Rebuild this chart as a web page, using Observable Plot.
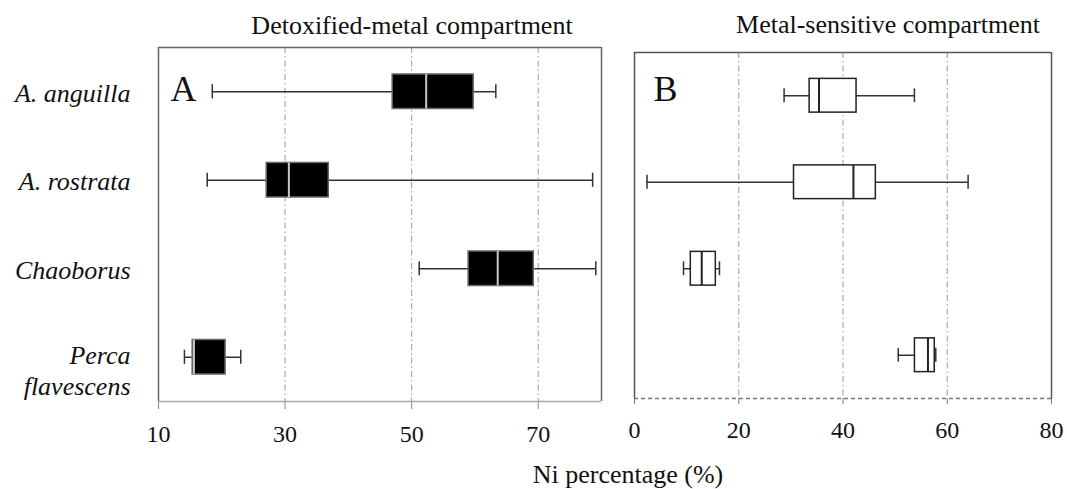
<!DOCTYPE html>
<html>
<head>
<meta charset="utf-8">
<script src="https://cdn.jsdelivr.net/npm/d3@7"></script>
<script src="https://cdn.jsdelivr.net/npm/@observablehq/plot@0.6"></script>
<style>
  html, body { margin: 0; padding: 0; background: #fff; }
  #fig { position: relative; width: 1067px; height: 489px; overflow: hidden;
         font-family: "Liberation Serif", "Times New Roman", serif; color: #111; }
  #fig svg { position: absolute; top: 0; }
  #fig svg text { font-family: "Liberation Serif", "Times New Roman", serif; }
  .txt { position: absolute; font-family: "Liberation Serif", "Times New Roman", serif;
         font-size: 26px; line-height: 26px; white-space: nowrap; text-align: center; }
</style>
</head>
<body>
<div id="fig">
  <div class="txt" id="titleA" style="left:212px; top:13px; width:400px;">Detoxified-metal compartment</div>
  <div class="txt" id="titleB" style="left:688px; top:12px; width:400px;">Metal-sensitive compartment</div>
  <div class="txt" id="xlabel" style="left:428px; top:462px; width:400px;">Ni percentage (%)</div>
</div>
<script>
// Species, top to bottom
const species = ["A. anguilla", "A. rostrata", "Chaoborus", "Perca\nflavescens"];

// Detoxified-metal compartment (% of Ni): whisker ends, quartiles, median
const detoxLo  = [18.5, 17.7, 51.2, 14.1];
const detoxQ1  = [47.0, 27.1, 59.0, 15.4];
const detoxMed = [52.3, 30.6, 63.6, 15.6];
const detoxQ3  = [59.8, 36.9, 69.3, 20.6];
const detoxHi  = [63.3, 78.6, 79.1, 23.0];

// Metal-sensitive compartment (% of Ni)
const sensLo  = [28.7,  2.4,  9.4, 50.6];
const sensQ1  = [33.6, 30.6, 10.8, 53.8];
const sensMed = [35.4, 42.0, 12.9, 56.3];
const sensQ3  = [42.6, 46.3, 15.6, 57.6];
const sensHi  = [53.7, 64.0, 16.3, 57.8];

// Axis domains, tick values and grid lines
const domainA = [10, 80];
const ticksA  = [10, 30, 50, 70];
const gridA   = [30, 50, 70];
const domainB = [0, 80];
const ticksB  = [0, 20, 40, 60, 80];
const gridB   = [20, 40, 60];

const rowsY = [4.5, 0.5];      // row 1 at the top
const BOX = 0.195;             // half box height, in row units
const CAP = 0.08;              // half whisker-cap height

const serif = '"Liberation Serif", "Times New Roman", serif';

function table(lo, q1, med, q3, hi) {
  return species.map((s, i) => ({row: i + 1, lo: lo[i], q1: q1[i], med: med[i], q3: q3[i], hi: hi[i]}));
}

function boxMarks(data, boxFill, boxStroke, medStroke) {
  return [
    Plot.ruleY(data, {y: "row", x1: "lo", x2: "hi", stroke: "#333", strokeWidth: 1.5}),
    Plot.ruleX(data, {x: "lo", y1: d => d.row - CAP, y2: d => d.row + CAP, stroke: "#333", strokeWidth: 1.5}),
    Plot.ruleX(data, {x: "hi", y1: d => d.row - CAP, y2: d => d.row + CAP, stroke: "#333", strokeWidth: 1.5}),
    Plot.rect(data, {x1: "q1", x2: "q3", y1: d => d.row - BOX, y2: d => d.row + BOX,
                     fill: boxFill, stroke: boxStroke, strokeWidth: 1.5}),
    Plot.ruleX(data, {x: "med", y1: d => d.row - BOX, y2: d => d.row + BOX, stroke: medStroke, strokeWidth: 2})
  ];
}

const style = {fontFamily: serif, fontSize: "24px", background: "transparent", color: "#111", overflow: "visible"};
const speciesText = {tickSize: 0, tickPadding: 28, tickFormat: i => species[i - 1],
                     fontFamily: serif, fontStyle: "italic", fontSize: 26, lineHeight: 1.2, label: null};

// Panel A: detoxified-metal compartment
const plotA = Plot.plot({
  width: 615, height: 460,
  marginLeft: 158, marginRight: 14, marginTop: 47, marginBottom: 59,
  style,
  x: {domain: domainA},
  y: {domain: rowsY},
  marks: [
    Plot.ruleX(gridA, {stroke: "#999", strokeDasharray: "6,3,1.5,3"}),
    Plot.axisX({ticks: ticksA, tickSize: 8, tickPadding: 15, stroke: "#888",
                fontFamily: serif, fontSize: 24, label: null}),
    Plot.axisY({ticks: [1, 2, 3], ...speciesText}),
    Plot.axisY({ticks: [4], ...speciesText, dy: 12}),
    ...boxMarks(table(detoxLo, detoxQ1, detoxMed, detoxQ3, detoxHi), "#000", "#666", "#c8c8c8"),
    Plot.ruleX(domainA, {stroke: "#666", strokeWidth: 1.5}),
    Plot.ruleY([rowsY[1]], {stroke: "#666", strokeWidth: 1.5}),
    Plot.ruleY([rowsY[0]], {stroke: "#aaa", strokeWidth: 1.5}),
    Plot.text(["A"], {frameAnchor: "top-left", textAnchor: "start", lineAnchor: "top",
                      dx: 12, dy: 28, fontFamily: serif, fontSize: 36, fill: "#111"})
  ]
});
plotA.style.left = "0px";

// Panel B: metal-sensitive compartment
const plotB = Plot.plot({
  width: 457, height: 460,
  marginLeft: 24, marginRight: 16, marginTop: 52, marginBottom: 62,
  style,
  x: {domain: domainB},
  y: {domain: rowsY, axis: null},
  marks: [
    Plot.ruleX(gridB, {stroke: "#999", strokeDasharray: "6,3,1.5,3"}),
    Plot.axisX({ticks: ticksB, tickSize: 6, tickPadding: 16, stroke: "#777",
                fontFamily: serif, fontSize: 24, label: null}),
    ...boxMarks(table(sensLo, sensQ1, sensMed, sensQ3, sensHi), "#fff", "#222", "#222"),
    Plot.ruleX(domainB, {stroke: "#555", strokeWidth: 1.5}),
    Plot.ruleY([rowsY[1]], {stroke: "#555", strokeWidth: 1.5}),
    Plot.ruleY([rowsY[0]], {stroke: "#777", strokeWidth: 1.5, strokeDasharray: "4,3"}),
    Plot.text(["B"], {frameAnchor: "top-left", textAnchor: "start", lineAnchor: "top",
                      dx: 19, dy: 23, fontFamily: serif, fontSize: 36, fill: "#111"})
  ]
});
plotB.style.left = "610px";

const fig = document.getElementById("fig");
fig.appendChild(plotA);
fig.appendChild(plotB);
</script>
</body>
</html>
